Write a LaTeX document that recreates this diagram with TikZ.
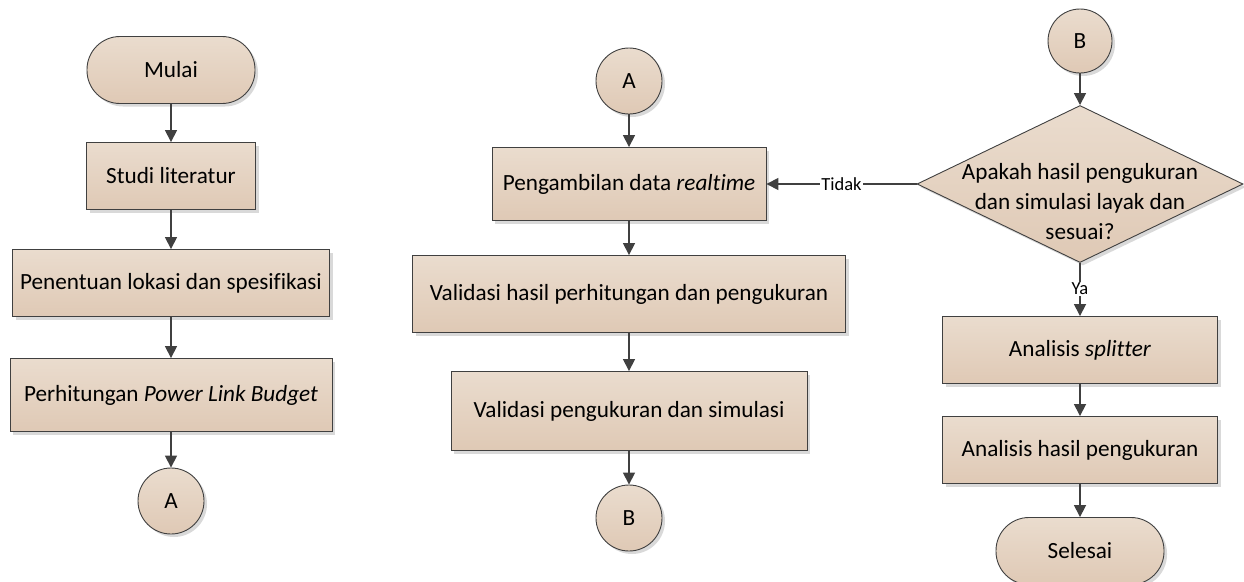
\documentclass[tikz,border=0pt]{standalone}
\usepackage{fontspec}
\setmainfont[Ligatures=NoCommon]{Carlito}
\usetikzlibrary{shapes.geometric,arrows.meta,shadows}
\definecolor{fillA}{HTML}{EADCCE}
\definecolor{fillB}{HTML}{DFC9B5}
\definecolor{edge}{HTML}{404040}
\tikzset{
  base/.style={draw=edge, line width=0.9pt, top color=fillA, bottom color=fillB,
    font=\fontsize{23.2}{30}\selectfont, text=black, inner sep=0pt,
    drop shadow={shadow xshift=3pt, shadow yshift=-3pt, fill=black!15, opacity=1}},
  procbox/.style={base, rectangle, minimum height=67pt},
  termbox/.style={base, rectangle, rounded corners=33pt, minimum width=168pt, minimum height=67pt},
  conn/.style={base, circle, minimum size=66pt},
  decis/.style={base, diamond, aspect=2.1, minimum width=326pt, minimum height=157pt},
  dtext/.style={font=\fontsize{23.2}{30}\selectfont, align=center, inner sep=0pt},
  flow/.style={draw=edge, line width=1.6pt, -{Triangle[length=12pt,width=12pt]}},
  plain/.style={draw=edge, line width=1.6pt},
  lbl/.style={font=\fontsize{18.5}{21}\selectfont, inner sep=1pt}
}
\begin{document}
\begin{tikzpicture}[x=1pt,y=-1pt]
\useasboundingbox (0,0) rectangle (1244,581);
% left column
\node[termbox] (mulai) at (171,70) {Mulai};
\node[procbox, minimum width=169pt] (studi) at (171,176) {Studi literatur};
\node[procbox, minimum width=317pt] (penentuan) at (171,283) {Penentuan lokasi dan spesifikasi};
\node[procbox, minimum width=322pt, minimum height=73pt] (perhit) at (171,395) {Perhitungan \textit{Power Link Budget}};
\node[conn] (A1) at (171,501) {A};
% middle column
\node[conn] (A2) at (629,81) {A};
\node[procbox, minimum width=274pt, minimum height=73pt] (ambil) at (629,184) {Pengambilan data \textit{realtime}};
\node[procbox, minimum width=433pt, minimum height=77pt] (valhasil) at (629,294) {Validasi hasil perhitungan dan pengukuran};
\node[procbox, minimum width=356pt, minimum height=79pt] (valukur) at (629,411) {Validasi pengukuran dan simulasi};
\node[conn] (B1) at (629,518) {B};
% right column
\node[conn, minimum size=64pt] (B2) at (1080,41) {B};
\node[decis] (dec) at (1080,184) {};
\node[dtext] (dectext) at (1080,202) {Apakah hasil pengukuran\\dan simulasi layak dan\\sesuai?};
\node[procbox, minimum width=275pt] (split) at (1080,350) {Analisis \textit{splitter}};
\node[procbox, minimum width=275pt] (anhasil) at (1080,450) {Analisis hasil pengukuran};
\node[termbox] (selesai) at (1080,551) {Selesai};
% connectors
\draw[flow] (mulai) -- (studi);
\draw[flow] (studi) -- (penentuan);
\draw[flow] (penentuan) -- (perhit);
\draw[flow] (perhit) -- (A1);
\draw[flow] (A2) -- (ambil);
\draw[flow] (ambil) -- (valhasil);
\draw[flow] (valhasil) -- (valukur);
\draw[flow] (valukur) -- (B1);
\draw[flow] (B2) -- (dec);
\draw[flow] (dec.west) -- node[lbl, fill=white, pos=0.5] (tidak) {Tidak} (ambil.east);
\node[lbl] (ya) at (1080,289) {Ya};
\draw[plain] (dec.south) -- (ya.north);
\draw[flow] (ya.south) -- (split);
\draw[flow] (split) -- (anhasil);
\draw[flow] (anhasil) -- (selesai);
\end{tikzpicture}
\end{document}
